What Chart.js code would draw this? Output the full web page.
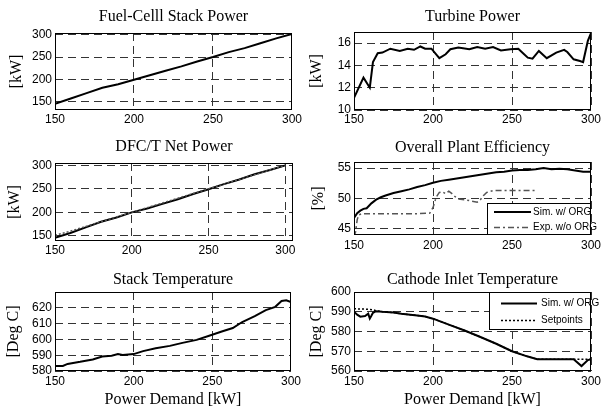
<!DOCTYPE html>
<html>
<head>
<meta charset="utf-8">
<script src="https://cdn.jsdelivr.net/npm/chart.js@4.4.0/dist/chart.umd.min.js"></script>
<style>
body { margin: 0; background: #fff; }
#fig { position: relative; width: 608px; height: 414px; overflow: hidden; background: #fff; }
canvas { position: absolute; }
</style>
</head>
<body>
<div id="fig">
<canvas id="c1" width="304" height="130" style="left:0px;top:0px"></canvas>
<canvas id="c2" width="304" height="130" style="left:304px;top:0px"></canvas>
<canvas id="c3" width="304" height="130" style="left:0px;top:130px"></canvas>
<canvas id="c4" width="304" height="130" style="left:304px;top:130px"></canvas>
<canvas id="c5" width="304" height="154" style="left:0px;top:260px"></canvas>
<canvas id="c6" width="304" height="154" style="left:304px;top:260px"></canvas>
</div>
<script>
// tick labels
var xTicks = [150, 200, 250, 300];
var stackPowerTicks = [150, 200, 250, 300];
var turbineTicks = [10, 12, 14, 16];
var netPowerTicks = [150, 200, 250, 300];
var effTicks = [45, 50, 55];
var stackTempTicks = [580, 590, 600, 610, 620];
var cathodeTicks = [560, 570, 580, 590, 600];

// Fuel-cell stack power
var stackDemand = [150, 160, 170, 180, 190, 200, 210, 220, 230, 240, 250, 260, 270, 280, 290, 300];
var stackPower  = [145, 157, 169, 181, 189, 199, 209, 219, 229, 240, 250, 261, 270, 281, 292, 302];

// Turbine power
var turbDemand = [150, 156, 160, 162, 165, 168, 173, 179, 184, 188, 192, 195, 199, 204, 208, 211, 216, 223, 228, 233, 238, 243, 249, 254, 257, 260, 263, 267, 272, 278, 283, 285, 289, 293, 295, 298, 300];
var turbPower  = [11.1, 12.9, 12.0, 14.3, 15.1, 15.15, 15.5, 15.3, 15.5, 15.4, 15.7, 15.5, 15.5, 14.65, 15.0, 15.45, 15.6, 15.45, 15.65, 15.5, 15.65, 15.35, 15.45, 15.5, 15.1, 14.7, 14.6, 15.3, 14.65, 15.15, 15.4, 15.2, 14.55, 14.4, 14.3, 16.2, 16.9];

// DFC/T net power
var netDemand   = [150, 160, 170, 180, 190, 200, 210, 220, 230, 240, 250, 260, 270, 280, 290, 300];
var netPower    = [146, 156, 168, 180, 189, 200, 208, 218, 228, 239, 249, 260, 270, 281, 290, 300];
var netSetpoint = [151, 160, 170, 180, 190, 200, 210, 220, 230, 240, 250, 260, 270, 280, 290, 300];

// Overall plant efficiency
var effDemand = [150, 152, 154, 156, 158, 161, 164, 167, 170, 175, 180, 185, 190, 195, 200, 205, 210, 215, 220, 225, 230, 235, 240, 245, 250, 255, 260, 265, 270, 275, 280, 285, 290, 295, 300];
var effSim    = [46.8, 47.6, 48.0, 48.3, 48.4, 49.2, 49.8, 50.2, 50.5, 50.9, 51.2, 51.5, 51.9, 52.2, 52.6, 52.9, 53.1, 53.3, 53.5, 53.7, 53.9, 54.1, 54.3, 54.4, 54.6, 54.7, 54.7, 54.8, 55.0, 54.8, 54.9, 54.8, 54.6, 54.4, 54.4];
var expDemand = [150, 151, 152, 153, 155, 160, 170, 180, 190, 198, 200, 202, 204, 206, 208, 210, 212, 214, 216, 220, 224, 228, 230, 232, 234, 238, 245, 250, 255, 260, 265];
var effExp    = [43.7, 44.5, 46.5, 47.3, 47.5, 47.5, 47.5, 47.5, 47.5, 47.6, 48.5, 50.2, 51.0, 51.1, 50.8, 51.2, 50.8, 50.3, 49.9, 49.8, 49.6, 49.4, 49.8, 50.5, 51.0, 51.3, 51.3, 51.3, 51.3, 51.3, 51.3];

// Stack temperature
var tempDemand = [150, 155, 158, 166, 174, 180, 186, 190, 193, 200, 206, 214, 223, 231, 240, 248, 256, 263, 269, 277, 284, 290, 294, 297, 300];
var stackTemp  = [583.2, 583.2, 584.5, 585.8, 587.3, 589.2, 589.7, 590.7, 590.1, 590.7, 592.6, 594.4, 595.9, 597.8, 599.7, 602.3, 605, 607.2, 611, 614.7, 618.5, 620.6, 624.3, 624.7, 623.6];

// Cathode inlet temperature
var cathDemand = [150, 152, 154, 157, 159, 160, 161, 162, 164, 168, 175, 180, 190, 195, 200, 210, 220, 230, 240, 250, 260, 266, 270, 280, 289, 294, 298, 300];
var cathSim    = [590, 588.5, 587.5, 587.8, 589, 586.6, 588, 589.5, 590.3, 590, 589.6, 589, 588.1, 587.6, 586.5, 583.5, 580.5, 577.2, 573.8, 570, 567.3, 566, 566, 566, 566, 562.5, 565.5, 566];
var setDemand  = [150, 158, 162, 164, 168, 175, 180, 190, 195, 200, 210, 220, 230, 240, 250, 260, 266, 270, 280, 290, 300];
var cathSet    = [591.5, 591.3, 591, 590.5, 590, 589.6, 589, 588.1, 587.6, 586.5, 583.5, 580.5, 577.2, 573.8, 570, 567.3, 566, 566, 566, 566, 566];

var serif = 'Liberation Serif';
var sans = 'Liberation Sans';

function pts(xs, ys) {
    return xs.map(function (x, i) { return { x: x, y: ys[i] }; });
}

function line(label, xs, ys, color, width, dash) {
    return {
        label: label,
        data: pts(xs, ys),
        showLine: true,
        borderColor: color,
        backgroundColor: color,
        borderWidth: width,
        borderDash: dash || [],
        pointRadius: 0,
        fill: false
    };
}

// full box round the axes, like matlab
var frameBox = {
    id: 'frameBox',
    afterDatasetsDraw: function (chart) {
        var a = chart.chartArea;
        var ctx = chart.ctx;
        ctx.save();
        ctx.strokeStyle = '#000';
        ctx.lineWidth = 1;
        ctx.strokeRect(Math.round(a.left) + 0.5, Math.round(a.top) + 0.5,
            Math.round(a.right - a.left) - 1, Math.round(a.bottom - a.top) - 1);
        ctx.restore();
    }
};

// legend drawn inside the plot corner
var legendBox = {
    id: 'legendBox',
    afterDraw: function (chart) {
        var o = chart.options.plugins.legendBox;
        if (!o || !o.display) return;
        var a = chart.chartArea;
        var ctx = chart.ctx;
        var x = Math.round(a.right - o.w);
        var y = Math.round(o.anchor == 'top' ? a.top : a.bottom - o.h);
        ctx.save();
        ctx.fillStyle = '#fff';
        ctx.fillRect(x, y, o.w, o.h);
        ctx.strokeStyle = '#000';
        ctx.lineWidth = 1;
        ctx.strokeRect(x + 0.5, y + 0.5, o.w - 1, o.h - 1);
        ctx.font = '10px "' + sans + '"';
        ctx.textBaseline = 'middle';
        o.order.forEach(function (di, i) {
            var ds = chart.data.datasets[di];
            var ly = y + o.rows[i];
            ctx.beginPath();
            ctx.setLineDash(ds.borderDash || []);
            ctx.strokeStyle = ds.borderColor;
            ctx.lineWidth = ds.borderWidth;
            ctx.moveTo(x + o.lineX[0], ly);
            ctx.lineTo(x + o.lineX[1], ly);
            ctx.stroke();
            ctx.setLineDash([]);
            ctx.fillStyle = '#000';
            ctx.fillText(ds.label, x + o.textX, ly);
        });
        ctx.restore();
    }
};

function makePanel(id, p) {
    var xTitle = { display: false };
    if (p.xTitle) {
        xTitle = { display: true, text: p.xTitle, color: '#000', font: { family: serif, size: 16 }, padding: { top: 0, bottom: 5 } };
    }
    return new Chart(document.getElementById(id), {
        type: 'scatter',
        data: { datasets: p.datasets },
        options: {
            responsive: false,
            animation: false,
            events: [],
            layout: { padding: { left: 0, top: 0, right: p.padRight, bottom: 0 } },
            plugins: {
                legend: { display: false },
                tooltip: { enabled: false },
                title: {
                    display: true,
                    text: p.title,
                    fullSize: false,
                    color: '#000',
                    font: { family: serif, size: 16, weight: 'normal' },
                    padding: { top: p.titlePad[0], bottom: p.titlePad[1] }
                },
                legendBox: p.legendBox || { display: false }
            },
            scales: {
                x: {
                    type: 'linear',
                    min: p.xMin,
                    max: p.xMax,
                    afterBuildTicks: function (s) { s.ticks = xTicks.map(function (v) { return { value: v }; }); },
                    afterFit: function (s) { s.height = p.xH; },
                    grid: { color: '#333', drawTicks: false },
                    border: { display: false, dash: [8, 5] },
                    ticks: { color: '#000', padding: p.xTickPad, maxRotation: 0, font: { family: sans, size: 12 } },
                    title: xTitle
                },
                y: {
                    type: 'linear',
                    min: p.yMin,
                    max: p.yMax,
                    afterBuildTicks: function (s) { s.ticks = p.yTicks.map(function (v) { return { value: v }; }); },
                    afterFit: function (s) { s.width = p.yW; },
                    grid: { color: '#333', drawTicks: false },
                    border: { display: false, dash: [8, 5] },
                    ticks: { color: '#000', padding: 3, font: { family: sans, size: 12 } },
                    title: { display: true, text: p.yTitle, color: '#000', font: { family: serif, size: 16 }, padding: { top: p.yTitlePad, bottom: 0 } }
                }
            }
        },
        plugins: [frameBox, legendBox]
    });
}

makePanel('c1', {
    title: 'Fuel-Celll Stack Power', titlePad: [7.4, 6.4],
    yTitle: '[kW]', yTitlePad: 7.4, yW: 55, padRight: 11, xH: 20, xTickPad: 2,
    xMin: 150, xMax: 300, yMin: 131, yMax: 304, yTicks: stackPowerTicks,
    datasets: [line('Stack power', stackDemand, stackPower, '#000', 2)]
});

makePanel('c2', {
    title: 'Turbine Power', titlePad: [7.4, 5.4],
    yTitle: '[kW]', yTitlePad: 3.4, yW: 50, padRight: 17, xH: 20, xTickPad: 2,
    xMin: 150, xMax: 300, yMin: 10, yMax: 17, yTicks: turbineTicks,
    datasets: [line('Turbine power', turbDemand, turbPower, '#000', 2)]
});

makePanel('c3', {
    title: 'DFC/T Net Power', titlePad: [7.1, 6.7],
    yTitle: '[kW]', yTitlePad: 5.4, yW: 55, padRight: 11, xH: 19, xTickPad: 2,
    xMin: 150, xMax: 305, yMin: 139, yMax: 305, yTicks: netPowerTicks,
    datasets: [
        line('Setpoint', netDemand, netSetpoint, '#555', 1.5, [2, 2]),
        line('Net power', netDemand, netPower, '#000', 2)
    ]
});

makePanel('c4', {
    title: 'Overall Plant Efficiency', titlePad: [8.1, 4.7],
    yTitle: '[%]', yTitlePad: 5.4, yW: 50, padRight: 17, xH: 25, xTickPad: 3,
    xMin: 150, xMax: 300, yMin: 44, yMax: 56, yTicks: effTicks,
    datasets: [
        line('Sim. w/ ORG', effDemand, effSim, '#000', 2),
        line('Exp. w/o ORG', expDemand, effExp, '#555', 1.5, [6, 3, 2, 3])
    ],
    legendBox: { display: true, anchor: 'bottom', w: 104, h: 32, rows: [9, 24.5], lineX: [7, 44], textX: 46, order: [0, 1] }
});

makePanel('c5', {
    title: 'Stack Temperature', titlePad: [9.7, 3.1],
    yTitle: '[Deg C]', yTitlePad: 3.7, yW: 55, padRight: 11, xH: 43, xTickPad: 3,
    xMin: 150, xMax: 300, yMin: 580, yMax: 630, yTicks: stackTempTicks,
    xTitle: 'Power Demand [kW]',
    datasets: [line('Stack temperature', tempDemand, stackTemp, '#000', 2)]
});

makePanel('c6', {
    title: 'Cathode Inlet Temperature', titlePad: [9.7, 3.1],
    yTitle: '[Deg C]', yTitlePad: 3.1, yW: 50, padRight: 17, xH: 43, xTickPad: 3,
    xMin: 150, xMax: 300, yMin: 560, yMax: 600, yTicks: cathodeTicks,
    xTitle: 'Power Demand [kW]',
    datasets: [
        line('Setpoints', setDemand, cathSet, '#000', 1.5, [2, 2]),
        line('Sim. w/ ORG', cathDemand, cathSim, '#000', 2)
    ],
    legendBox: { display: true, anchor: 'top', w: 102, h: 38, rows: [11.5, 28.5], lineX: [12, 48], textX: 52, order: [1, 0] }
});
</script>
</body>
</html>
